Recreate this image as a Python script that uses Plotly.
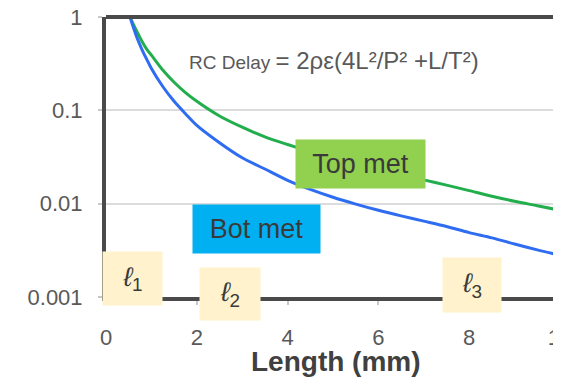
import plotly.graph_objects as go

# Data
length_mm = [0.53, 0.6, 0.7, 0.8, 0.9, 1.0, 1.25, 1.5, 1.75, 2.0, 2.5, 3.0, 3.5, 4.0, 4.5,
             5.0, 5.5, 6.0, 6.5, 7.0, 7.5, 8.0, 8.5, 9.0, 9.5, 10.0]
top_met = [1.0, 0.84, 0.67, 0.54, 0.45, 0.39, 0.27, 0.20, 0.155, 0.125, 0.087, 0.066, 0.052, 0.043, 0.036,
           0.0305, 0.0265, 0.0232, 0.0204, 0.0180, 0.0158, 0.0138, 0.0120, 0.0106, 0.0095, 0.0085]
bot_met = [1.0, 0.78, 0.57, 0.44, 0.35, 0.28, 0.18, 0.125, 0.092, 0.069, 0.045, 0.031, 0.0235, 0.0178, 0.0142,
           0.0117, 0.0099, 0.0085, 0.0074, 0.0065, 0.0057, 0.0049, 0.0043, 0.0037, 0.0032, 0.0028]

x_ticks = [0, 2, 4, 6, 8, 10]
y_ticks = [0.001, 0.01, 0.1, 1]
y_tick_text = ["0.001", "0.01", "0.1", "1"]

FONT = "Liberation Sans, Arial, sans-serif"

fig = go.Figure()
fig.add_trace(go.Scatter(x=length_mm, y=top_met, mode="lines", name="Top met",
                         line=dict(color="#22AE4C", width=3, shape="spline", smoothing=0.8)))
fig.add_trace(go.Scatter(x=length_mm, y=bot_met, mode="lines", name="Bot met",
                         line=dict(color="#2E6CF2", width=3, shape="spline", smoothing=0.8)))

# The page body adds an 8px offset; margins below compensate for it.
fig.update_layout(
    width=561, height=379,
    margin=dict(l=98, r=9, t=9, b=90),
    paper_bgcolor="white", plot_bgcolor="white",
    showlegend=False,
    font=dict(family=FONT, color="#595959", size=22),
    xaxis=dict(range=[0, 10], tickvals=x_ticks, showgrid=False, zeroline=False,
               automargin=False, ticklabeloverflow="allow",
               showline=True, linecolor="#4a4a4a", linewidth=4,
               ticks="outside", ticklen=4, tickcolor="#c8c8c8", tickwidth=1.5,
               ticklabelstandoff=14,
               tickfont=dict(size=22, color="#595959")),
    yaxis=dict(type="log", range=[-3, 0], tickvals=y_ticks, ticktext=y_tick_text,
               automargin=False, ticklabeloverflow="allow",
               showgrid=True, gridcolor="#dcdcdc", gridwidth=2, zeroline=False,
               showline=True, linecolor="#4a4a4a", linewidth=4,
               ticks="outside", ticklen=4, tickcolor="#c8c8c8", tickwidth=1.5,
               ticklabelstandoff=11,
               tickfont=dict(size=22, color="#595959")),
)

# top and right borders
fig.add_shape(type="line", xref="paper", yref="paper", x0=0, x1=1, y0=1, y1=1,
              line=dict(color="#4a4a4a", width=4), layer="above")
fig.add_shape(type="line", xref="paper", yref="paper", x0=1, x1=1, y0=0, y1=1,
              line=dict(color="#c8c8c8", width=1.5), layer="above")


def px_x(px):
    return (px - 106) / 454.0


def px_y(py):
    return (297 - py) / 280.0


# x-axis title
fig.add_annotation(xref="paper", yref="paper", x=px_x(336), y=px_y(361),
                   xanchor="center", yanchor="middle", showarrow=False,
                   text="<b>Length (mm)</b>", font=dict(size=28, color="#404040"))

fig.add_annotation(xref="paper", yref="paper", x=px_x(334), y=px_y(45),
                   text="RC Delay <span style='font-size:24px'>= 2ρε(4L²/P² +L/T²)</span>",
                   showarrow=False, font=dict(size=19, color="#595959"))


def box(cx, cy, w, h, text, bg, size=27, color="#3a3a3a"):
    fig.add_annotation(xref="paper", yref="paper", x=px_x(cx), y=px_y(cy),
                       xanchor="center", yanchor="middle",
                       text=text, showarrow=False, bgcolor=bg, borderpad=0,
                       width=w, height=h, font=dict(size=size, color=color))


box(360.5, 164, 129, 48, "Top met", "#92D050")
box(256.5, 229, 127, 48, "Bot met", "#00B0F0")
box(132.5, 278.5, 59, 53, "<i>ℓ</i><sub>1</sub>", "#FFF2CC", size=27)
box(230, 294, 60, 52, "<i>ℓ</i><sub>2</sub>", "#FFF2CC", size=27)
box(472, 285, 58, 54, "<i>ℓ</i><sub>3</sub>", "#FFF2CC", size=27)

fig.write_html("out.html")
